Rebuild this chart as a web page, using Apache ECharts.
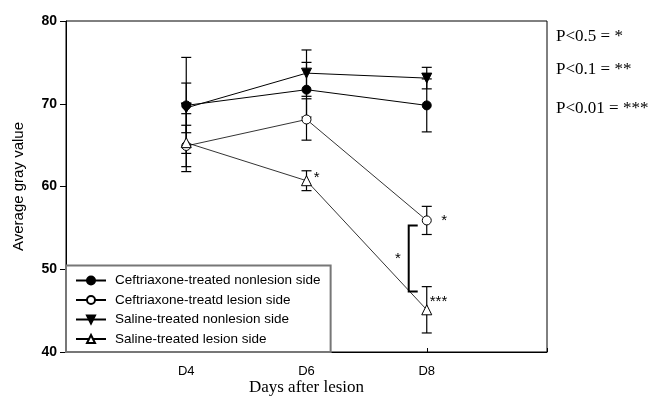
<!DOCTYPE html>
<html>
<head>
<meta charset="utf-8">
<script src="https://cdn.jsdelivr.net/npm/echarts@6/dist/echarts.min.js"></script>
<style>
  html, body { margin: 0; padding: 0; background: #fff; }
  #main { width: 653px; height: 396px; }
</style>
</head>
<body>
<div id="main"></div>
<script>
// days after lesion
var days = [4, 6, 8];
var dayTicks = ['D4', 'D6', 'D8'];

var names = [
  'Ceftriaxone-treated nonlesion side',
  'Ceftriaxone-treatd lesion side',
  'Saline-treated nonlesion side',
  'Saline-treated lesion side'
];
// means
var cefNonlesion = [69.8, 71.7, 69.8];
var cefLesion = [64.9, 68.1, 55.9];
var salNonlesion = [69.5, 73.7, 73.1];
var salLesion = [65.3, 60.7, 45.1];
// error (+/-)
var cefNonlesionErr = [5.8, 3.3, 3.2];
var cefLesionErr = [2.5, 2.5, 1.7];
var salNonlesionErr = [3.0, 2.8, 1.3];
var salLesionErr = [3.5, 1.2, 2.8];

// significance marks [day, value, text]
var stars = [[6.12, 61.0, '*'], [8.24, 55.9, '*'], [8.05, 46.1, '***'], [7.47, 51.2, '*']];
// bracket between lesion sides at D8: [day, from, to]
var bracket = [[7.70, 55.3, 47.3]];
var pLegend = ['P<0.5 = *', 'P<0.1 = **', 'P<0.01 = ***'];

var chart = echarts.init(document.getElementById('main'));

function pairs(vals) {
  return days.map(function (d, i) { return [d, vals[i]]; });
}
function errData(vals, errs) {
  return days.map(function (d, i) { return [d, vals[i] - errs[i], vals[i] + errs[i]]; });
}
function errSeries(vals, errs) {
  return {
    type: 'custom',
    data: errData(vals, errs),
    z: 1,
    silent: true,
    renderItem: function (params, api) {
      var lo = api.coord([api.value(0), api.value(1)]);
      var hi = api.coord([api.value(0), api.value(2)]);
      var w = 5;
      var st = { stroke: '#000', lineWidth: 1.2 };
      return {
        type: 'group',
        children: [
          { type: 'line', shape: { x1: lo[0], y1: lo[1], x2: hi[0], y2: hi[1] }, style: st },
          { type: 'line', shape: { x1: lo[0] - w, y1: lo[1], x2: lo[0] + w, y2: lo[1] }, style: st },
          { type: 'line', shape: { x1: hi[0] - w, y1: hi[1], x2: hi[0] + w, y2: hi[1] }, style: st }
        ]
      };
    }
  };
}
function lineSeries(name, vals, symbol, rotate, filled, width) {
  return {
    name: name,
    type: 'line',
    data: pairs(vals),
    symbol: symbol,
    symbolRotate: rotate,
    symbolSize: symbol === 'triangle' ? 10 : 9,
    z: 3,
    lineStyle: { color: '#000', width: width },
    itemStyle: { color: filled ? '#000' : '#fff', borderColor: '#000', borderWidth: 1 }
  };
}

var option = {
  animation: false,
  backgroundColor: '#fff',
  grid: {
    left: 66, right: 106, top: 21, bottom: 44,
    outerBoundsMode: 'none',
    show: true, borderColor: '#000', borderWidth: 1
  },
  xAxis: {
    type: 'value',
    min: 2, max: 10, interval: 2,
    name: 'Days after lesion',
    nameLocation: 'middle',
    nameGap: 27,
    nameMoveOverlap: false,
    nameTextStyle: { fontFamily: 'Liberation Serif', fontSize: 17, color: '#000' },
    axisLine: { lineStyle: { color: '#000' } },
    axisTick: { inside: true, length: 4, lineStyle: { color: '#000' } },
    splitLine: { show: false },
    axisLabel: {
      margin: 13, fontFamily: 'Liberation Sans', fontSize: 13, color: '#000',
      formatter: function (v) { var i = days.indexOf(v); return i >= 0 ? dayTicks[i] : ''; }
    }
  },
  yAxis: {
    type: 'value',
    min: 40, max: 80, interval: 10,
    name: 'Average gray value',
    nameLocation: 'middle',
    nameGap: 40,
    nameMoveOverlap: false,
    nameTextStyle: { fontFamily: 'Liberation Sans', fontSize: 15, color: '#000' },
    axisLine: { lineStyle: { color: '#000' } },
    axisTick: { length: 6, lineStyle: { color: '#000' } },
    splitLine: { show: false },
    axisLabel: { margin: 9, fontFamily: 'Liberation Sans', fontWeight: 'bold', fontSize: 14, color: '#000' }
  },
  legend: {
    orient: 'vertical',
    left: 66, bottom: 44,
    data: names,
    backgroundColor: '#fff',
    borderColor: '#777',
    borderWidth: 2,
    padding: [8, 10, 6, 9],
    itemWidth: 30, itemHeight: 10, itemGap: 5.5,
    textStyle: { fontFamily: 'Liberation Sans', fontSize: 13.5, color: '#000', padding: [0, 0, 0, 4] },
    z: 10
  },
  graphic: pLegend.map(function (t, i) {
    return {
      type: 'text', left: 556, top: [28, 61, 100][i],
      style: { text: t, font: '17px "Liberation Serif"', fill: '#000' }
    };
  }),
  series: [
    errSeries(cefNonlesion, cefNonlesionErr),
    errSeries(cefLesion, cefLesionErr),
    errSeries(salNonlesion, salNonlesionErr),
    errSeries(salLesion, salLesionErr),
    lineSeries(names[0], cefNonlesion, 'circle', 0, true, 1),
    lineSeries(names[1], cefLesion, 'circle', 0, false, 0.8),
    lineSeries(names[2], salNonlesion, 'triangle', 180, true, 1),
    lineSeries(names[3], salLesion, 'triangle', 0, false, 0.8),
    {
      type: 'custom',
      data: bracket,
      silent: true,
      z: 4,
      renderItem: function (params, api) {
        var a = api.coord([api.value(0), api.value(1)]);
        var b = api.coord([api.value(0), api.value(2)]);
        return {
          type: 'polyline',
          shape: { points: [[a[0] + 9, a[1]], a, b, [b[0] + 9, b[1]]] },
          style: { stroke: '#000', lineWidth: 2, fill: null }
        };
      }
    },
    {
      type: 'custom',
      data: stars,
      silent: true,
      z: 4,
      renderItem: function (params, api) {
        var p = api.coord([api.value(0), api.value(1)]);
        return {
          type: 'text',
          x: p[0], y: p[1],
          style: { text: stars[params.dataIndex][2], font: '15px "Liberation Sans"', fill: '#000', verticalAlign: 'middle' }
        };
      }
    }
  ]
};
chart.setOption(option);
</script>
</body>
</html>
